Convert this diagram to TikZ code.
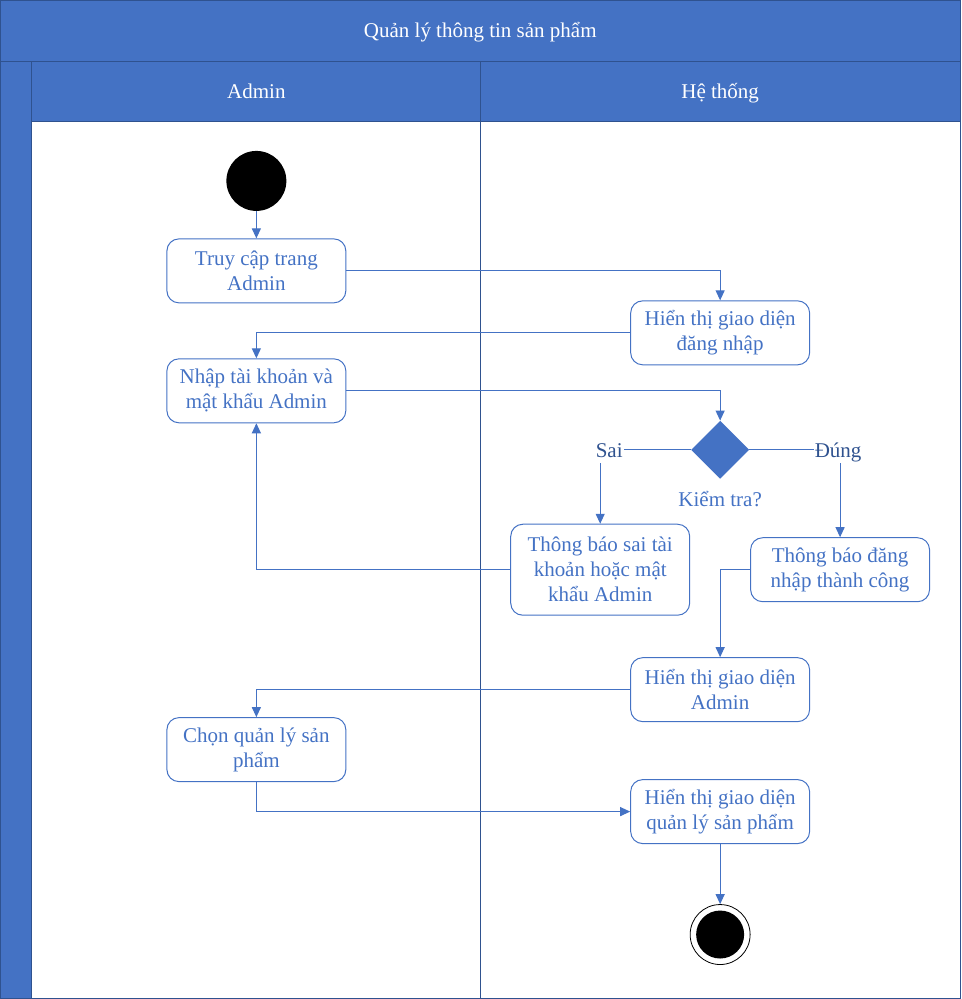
\documentclass[tikz,border=0pt]{standalone}
\usepackage{fontspec}
\setmainfont{Liberation Serif}
\usetikzlibrary{arrows.meta, shapes.geometric}
\definecolor{lane}{HTML}{4472C4}
\definecolor{laneline}{HTML}{2F528F}

\begin{document}
\begin{tikzpicture}[
  x=1pt,
  y=-1pt,
  font=\fontsize{21}{25}\selectfont,
  act/.style={
    draw=lane,
    line width=1pt,
    rounded corners=12pt,
    minimum width=179pt,
    minimum height=64pt,
    inner sep=0pt,
    align=center,
    text=lane
  },
  arr/.style={
    -{Triangle[length=10pt,width=9pt]},
    line width=1.1pt,
    lane
  },
  lbl/.style={
    text height=14pt,
    text depth=5pt,
    inner sep=1pt
  },
  guard/.style={
    lbl,
    text=laneline
  }
]

% Swimlanes
\fill [lane] (0,0) rectangle (961,122);
\fill [lane] (0,122) rectangle (31,999);
\draw [laneline, line width=1pt] (0.5,0.5) rectangle (960.5,998.5);
\draw [laneline, line width=1pt] (0,62) -- (961,62);
\draw [laneline, line width=1pt] (31,122) -- (961,122);
\draw [laneline, line width=1pt] (31,62) -- (31,999);
\draw [laneline, line width=1pt] (480,62) -- (480,999);
\node [lbl, text=white] (title) at (480,33) {Quản lý thông tin sản phẩm};
\node [lbl, text=white] (admin) at (256,94) {Admin};
\node [lbl, text=white] (system) at (720,94) {Hệ thống};

% Start and end
\node [circle, fill=black, minimum size=60pt, inner sep=0pt] (start) at (256,181) {};
\node [circle, draw=black, line width=0.8pt, minimum size=60pt, inner sep=0pt] (stop) at (720,935) {};
\node [circle, fill=black, minimum size=48pt, inner sep=0pt] (stopdot) at (720,935) {};

% Actions
\node [act] (access) at (256,271) {Truy cập trang\\Admin};
\node [act] (loginui) at (720,333) {Hiển thị giao diện\\đăng nhập};
\node [act] (input) at (256,391) {Nhập tài khoản và\\mật khẩu Admin};
\node [diamond, fill=lane, minimum size=58pt, inner sep=0pt] (check) at (720,450) {};
\node [lbl, text=lane] (checklbl) at (720,502) {Kiểm tra?};
\node [guard] (sai) at (609,453) {Sai};
\node [guard] (dung) at (838,453) {Đúng};
\node [act, minimum height=91pt] (fail) at (600,570) {Thông báo sai tài\\khoản hoặc mật\\khẩu Admin};
\node [act] (ok) at (840,570) {Thông báo đăng\\nhập thành công};
\node [act] (adminui) at (720,690) {Hiển thị giao diện\\Admin};
\node [act] (choose) at (256,750) {Chọn quản lý sản\\phẩm};
\node [act] (productui) at (720,812) {Hiển thị giao diện\\quản lý sản phẩm};

% Flows
\draw [arr] (start) -- (access);
\draw [arr] (access.east) -| (loginui.north);
\draw [arr] (loginui.west) -| (input.north);
\draw [arr] (input.east) -| (check.north);
\draw [lane, line width=1.1pt] (check.west) -- (check.west -| sai.east);
\draw [lane, line width=1.1pt] (check.east) -- (check.east -| dung.west);
\draw [arr] (sai.south -| fail.north) -- (fail.north);
\draw [arr] (dung.south -| ok.north) -- (ok.north);
\draw [arr] (fail.west) -| (input.south);
\draw [arr] (ok.west) -| (adminui.north);
\draw [arr] (adminui.west) -| (choose.north);
\draw [arr] (choose.south) |- (productui.west);
\draw [arr] (productui.south) -- (stop.north);

\end{tikzpicture}
\end{document}
